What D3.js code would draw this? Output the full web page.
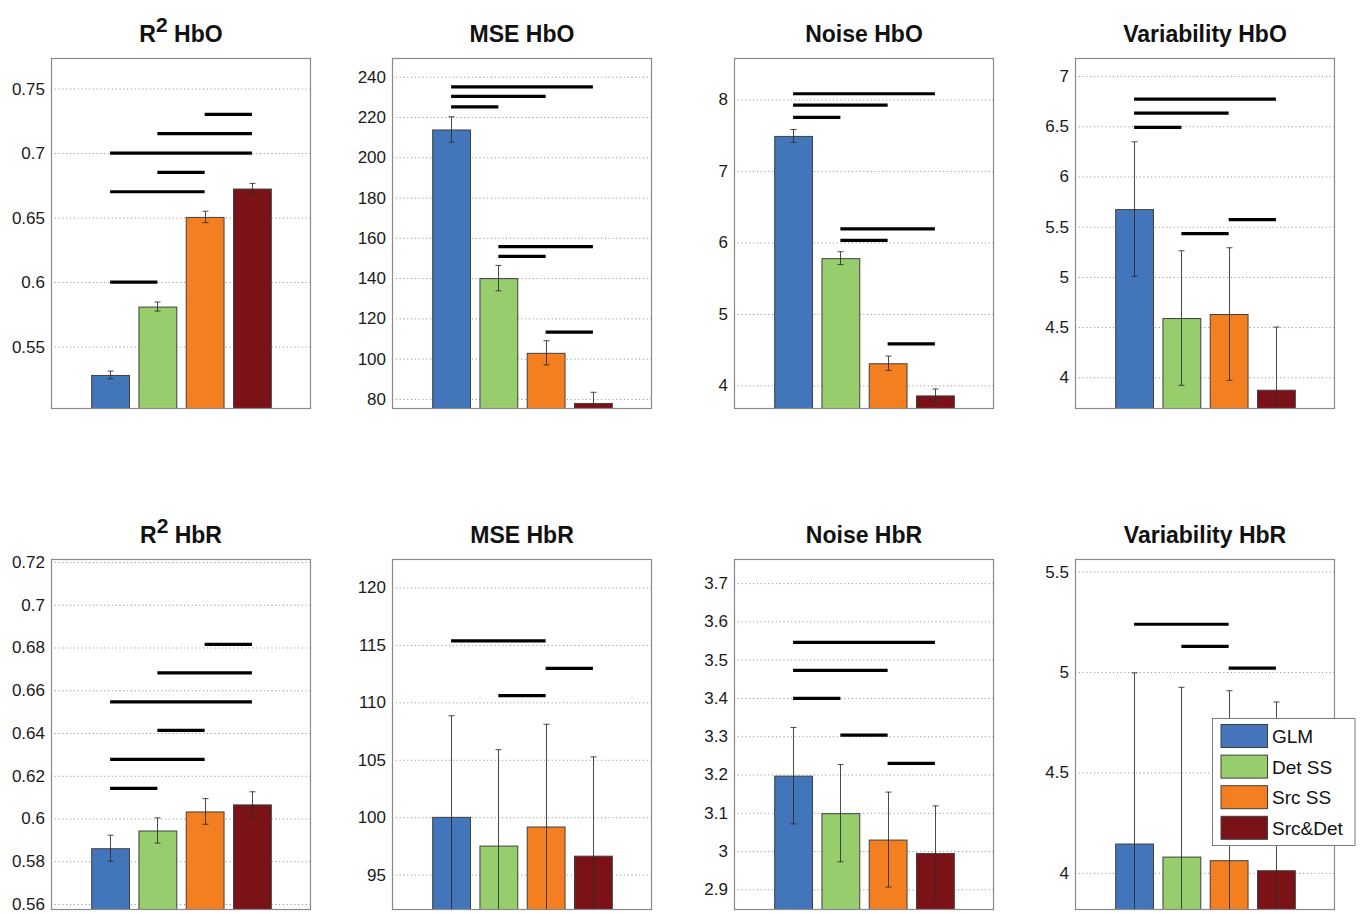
<!DOCTYPE html>
<html>
<head>
<meta charset="utf-8">
<script src="https://cdn.jsdelivr.net/npm/d3@7"></script>
<style>
  html, body { margin: 0; padding: 0; background: #fff; }
  svg { display: block; }
  text { font-family: "Liberation Sans", Arial, Helvetica, sans-serif; }
</style>
</head>
<body>
<svg id="chart" width="1364" height="914"></svg>
<script>
// ---------------- DATA ----------------
const methods = ["GLM", "Det SS", "Src SS", "Src&Det"];

// R2 HbO
const r2HbOMean = [0.528, 0.581, 0.6505, 0.6725];
const r2HbOErr  = [0.003, 0.0035, 0.0044, 0.004];
const r2HbOSig  = [[0,1,0.600],[0,2,0.670],[1,2,0.685],[0,3,0.700],[1,3,0.715],[2,3,0.730]];
const r2HbOTicks = [0.55, 0.6, 0.65, 0.7, 0.75];
const r2HbODomain = [0.5016, 0.7737];

// MSE HbO
const mseHbOMean = [213.8, 140.0, 102.9, 78.0];
const mseHbOErr  = [6.3, 6.3, 6.0, 5.3];
const mseHbOSig  = [[0,1,225.0],[0,2,230.2],[0,3,235.0],[1,2,150.8],[1,3,155.6],[2,3,113.2]];
const mseHbOTicks = [80, 100, 120, 140, 160, 180, 200, 220, 240];
const mseHbODomain = [75, 249.3];

// Noise HbO
const noiseHbOMean = [7.49, 5.78, 4.31, 3.86];
const noiseHbOErr  = [0.09, 0.09, 0.10, 0.09];
const noiseHbOSig  = [[0,1,7.75],[0,2,7.92],[0,3,8.08],[1,2,6.03],[1,3,6.19],[2,3,4.58]];
const noiseHbOTicks = [4, 5, 6, 7, 8];
const noiseHbODomain = [3.67, 8.58];

// Variability HbO
const varHbOMean = [5.675, 4.59, 4.63, 3.876];
const varHbOErr  = [0.67, 0.67, 0.66, 0.624];
const varHbOSig  = [[0,1,6.49],[0,2,6.63],[0,3,6.77],[1,2,5.43],[2,3,5.57]];
const varHbOTicks = [4, 4.5, 5, 5.5, 6, 6.5, 7];
const varHbODomain = [3.684, 7.18];

// R2 HbR
const r2HbRMean = [0.5861, 0.5944, 0.6033, 0.6066];
const r2HbRErr  = [0.0061, 0.0059, 0.006, 0.0059];
const r2HbRSig  = [[0,1,0.6141],[0,2,0.6277],[1,2,0.6412],[0,3,0.6546],[1,3,0.6681],[2,3,0.6815]];
const r2HbRTicks = [0.56, 0.58, 0.6, 0.62, 0.64, 0.66, 0.68, 0.7, 0.72];
const r2HbRDomain = [0.5572, 0.7214];

// MSE HbR
const mseHbRMean = [100.03, 97.53, 99.19, 96.65];
const mseHbRErr  = [8.8, 8.35, 8.9, 8.6];
const mseHbRSig  = [[0,2,115.35],[1,2,110.58],[2,3,112.96]];
const mseHbRTicks = [95, 100, 105, 110, 115, 120];
const mseHbRDomain = [91.92, 122.48];

// Noise HbR
const noiseHbRMean = [3.197, 3.099, 3.030, 2.995];
const noiseHbRErr  = [0.126, 0.127, 0.124, 0.123];
const noiseHbRSig  = [[0,1,3.399],[0,2,3.472],[0,3,3.545],[1,2,3.303],[2,3,3.229]];
const noiseHbRTicks = [2.9, 3, 3.1, 3.2, 3.3, 3.4, 3.5, 3.6, 3.7];
const noiseHbRDomain = [2.846, 3.763];

// Variability HbR
const varHbRMean = [4.146, 4.081, 4.063, 4.013];
const varHbRErr  = [0.85, 0.843, 0.844, 0.838];
const varHbRSig  = [[0,2,5.238],[1,2,5.128],[2,3,5.02]];
const varHbRTicks = [4, 4.5, 5, 5.5];
const varHbRDomain = [3.815, 5.563];

// ---------------- STYLE / LAYOUT ----------------
const colors = ["#4375ba", "#97cd6d", "#f47f20", "#7b1218"];
const colLefts = [51, 392, 734, 1075];
const rowTops = [58, 559];
const panelW = 260, panelH = 351;

const panels = [
  {title: ["R", "2", " HbO"], mean: r2HbOMean, err: r2HbOErr, sig: r2HbOSig, ticks: r2HbOTicks, domain: r2HbODomain, col: 0, row: 0},
  {title: ["MSE HbO"], mean: mseHbOMean, err: mseHbOErr, sig: mseHbOSig, ticks: mseHbOTicks, domain: mseHbODomain, col: 1, row: 0},
  {title: ["Noise HbO"], mean: noiseHbOMean, err: noiseHbOErr, sig: noiseHbOSig, ticks: noiseHbOTicks, domain: noiseHbODomain, col: 2, row: 0},
  {title: ["Variability HbO"], mean: varHbOMean, err: varHbOErr, sig: varHbOSig, ticks: varHbOTicks, domain: varHbODomain, col: 3, row: 0},
  {title: ["R", "2", " HbR"], mean: r2HbRMean, err: r2HbRErr, sig: r2HbRSig, ticks: r2HbRTicks, domain: r2HbRDomain, col: 0, row: 1},
  {title: ["MSE HbR"], mean: mseHbRMean, err: mseHbRErr, sig: mseHbRSig, ticks: mseHbRTicks, domain: mseHbRDomain, col: 1, row: 1},
  {title: ["Noise HbR"], mean: noiseHbRMean, err: noiseHbRErr, sig: noiseHbRSig, ticks: noiseHbRTicks, domain: noiseHbRDomain, col: 2, row: 1},
  {title: ["Variability HbR"], mean: varHbRMean, err: varHbRErr, sig: varHbRSig, ticks: varHbRTicks, domain: varHbRDomain, col: 3, row: 1, legend: true}
];

const svg = d3.select("#chart");
const defs = svg.append("defs");

panels.forEach((p, pi) => {
  const left = colLefts[p.col], top = rowTops[p.row];
  const g = svg.append("g").attr("transform", `translate(${left},${top})`);

  const x = d3.scaleBand().domain(methods).range([0, panelW]).paddingInner(0.2).paddingOuter(0.85);
  const y = d3.scaleLinear().domain(p.domain).range([panelH, 0]);
  const cx = i => x(methods[i]) + x.bandwidth() / 2;

  const clipId = "clip" + pi;
  defs.append("clipPath").attr("id", clipId)
    .append("rect").attr("x", 0).attr("y", 0).attr("width", panelW).attr("height", panelH);

  // grid lines
  g.append("g").selectAll("line").data(p.ticks).join("line")
    .attr("x1", 0).attr("x2", panelW)
    .attr("y1", d => y(d) + 0.5).attr("y2", d => y(d) + 0.5)
    .attr("stroke", "#9a9a9a").attr("stroke-width", 1)
    .attr("stroke-dasharray", "1.2,2.6");

  // y axis labels via d3 axis
  const yAxis = d3.axisLeft(y).tickValues(p.ticks).tickSize(0).tickPadding(6)
    .tickFormat(d => d3.format("")(+d.toFixed(4)));
  const ax = g.append("g").call(yAxis);
  ax.select(".domain").remove();
  ax.selectAll("text").attr("font-size", 17).attr("fill", "#1a1a1a")
    .attr("font-family", "'Liberation Sans', Arial, sans-serif");

  const plot = g.append("g").attr("clip-path", `url(#${clipId})`);

  // bars
  plot.selectAll("rect.bar").data(p.mean).join("rect").attr("class", "bar")
    .attr("x", (d, i) => x(methods[i]) + 0.5)
    .attr("width", x.bandwidth())
    .attr("y", d => y(d) + 0.5)
    .attr("height", d => Math.max(0, panelH - y(d) + 2))
    .attr("fill", (d, i) => colors[i])
    .attr("stroke", "#404040").attr("stroke-width", 1);

  // error bars
  const eb = plot.append("g").attr("stroke", "#2a2a2a").attr("stroke-width", 1).attr("stroke-opacity", 0.85);
  p.mean.forEach((m, i) => {
    const e = p.err[i];
    const xc = Math.round(cx(i)) + 0.5;
    eb.append("line").attr("x1", xc).attr("x2", xc).attr("y1", y(m + e)).attr("y2", y(m - e));
    eb.append("line").attr("x1", xc - 3).attr("x2", xc + 3).attr("y1", y(m + e)).attr("y2", y(m + e));
    eb.append("line").attr("x1", xc - 3).attr("x2", xc + 3).attr("y1", y(m - e)).attr("y2", y(m - e));
  });

  // significance lines
  plot.selectAll("line.sig").data(p.sig).join("line").attr("class", "sig")
    .attr("x1", d => cx(d[0])).attr("x2", d => cx(d[1]))
    .attr("y1", d => y(d[2])).attr("y2", d => y(d[2]))
    .attr("stroke", "#000").attr("stroke-width", 3.2);

  // axes box
  g.append("rect").attr("x", 0.5).attr("y", 0.5).attr("width", panelW - 1).attr("height", panelH - 1)
    .attr("fill", "none").attr("stroke", "#8a8a8a").attr("stroke-width", 1.2);

  // title
  const t = g.append("text").attr("x", panelW / 2).attr("y", -16)
    .attr("text-anchor", "middle").attr("font-size", 23).attr("font-weight", "bold").attr("fill", "#111");
  if (p.title.length === 3) {
    t.append("tspan").text(p.title[0]);
    t.append("tspan").attr("dy", -10).attr("font-size", 21).text(p.title[1]);
    t.append("tspan").attr("dy", 10).text(p.title[2]);
  } else {
    t.text(p.title[0]);
  }

  // legend
  if (p.legend) {
    const lg = g.append("g").attr("transform", `translate(${1212.5 - left},${718.5 - top})`);
    lg.append("rect").attr("width", 142.5).attr("height", 127)
      .attr("fill", "#fff").attr("stroke", "#7a7a7a").attr("stroke-width", 1);
    methods.forEach((m, i) => {
      const ry = 6 + i * 30.6;
      lg.append("rect").attr("x", 8.5).attr("y", ry).attr("width", 46.5).attr("height", 23)
        .attr("fill", colors[i]).attr("stroke", "#404040").attr("stroke-width", 1);
      lg.append("text").attr("x", 59.5).attr("y", ry + 18.5).attr("font-size", 19)
        .attr("fill", "#111").text(m);
    });
  }
});
</script>
</body>
</html>
